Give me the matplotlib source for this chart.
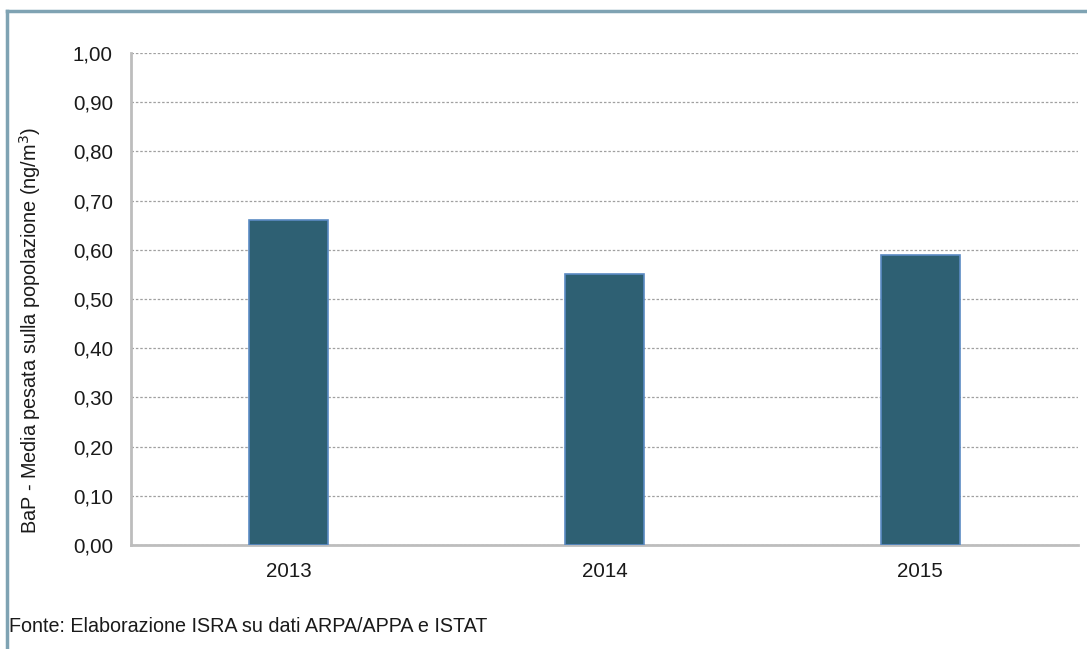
import matplotlib
matplotlib.use('Agg')
import matplotlib.pyplot as plt
from matplotlib.lines import Line2D
from matplotlib.ticker import FuncFormatter

plt.rcParams['font.family'] = ['Liberation Sans', 'DejaVu Sans']

# Data
years = ['2013', '2014', '2015']
bap_values = [0.66, 0.55, 0.59]
y_ticks = [0.0, 0.1, 0.2, 0.3, 0.4, 0.5, 0.6, 0.7, 0.8, 0.9, 1.0]

fig = plt.figure(figsize=(10.87, 6.49), dpi=100)
ax = fig.add_axes([0.1205, 0.1602, 0.8712, 0.758])

x = range(len(years))
ax.bar(x, bap_values, width=0.25, color='#2E6073', edgecolor='#5B8BC4',
       linewidth=1.2, zorder=3)

ax.set_xlim(-0.5, len(years) - 0.5)
ax.set_ylim(0, 1.0)
ax.set_yticks(y_ticks)
ax.yaxis.set_major_formatter(FuncFormatter(lambda v, p: f'{v:.2f}'.replace('.', ',')))
ax.set_xticks(list(x))
ax.set_xticklabels(years)

ax.tick_params(axis='both', length=0, labelsize=14.8, colors='#1a1a1a')
ax.tick_params(axis='y', pad=13)
ax.tick_params(axis='x', pad=12)

ax.grid(axis='y', color='#a0a0a0', linestyle=(0, (2, 1.5)), linewidth=0.9, zorder=0)
for side in ['top', 'right']:
    ax.spines[side].set_visible(False)
for side in ['left', 'bottom']:
    ax.spines[side].set_color('#BDBDBD')
    ax.spines[side].set_linewidth(2)

ax.set_ylabel('BaP - Media pesata sulla popolazione (ng/m$^3$)', fontsize=14.3,
              color='#1a1a1a', va='center')
ax.yaxis.set_label_coords(-0.1067, 0.437)

fig.text(0.008, 0.034, 'Fonte: Elaborazione ISRA su dati ARPA/APPA e ISTAT',
         fontsize=14.2, color='#1a1a1a', va='center', ha='left',
         family=['Liberation Sans Narrow', 'Liberation Sans', 'DejaVu Sans'])

# outer frame (top and left edges only, as in the reference)
frame_color = '#7FA3B3'
fig.add_artist(Line2D([7 / 1087, 1.0], [1 - 11 / 649, 1 - 11 / 649],
                      transform=fig.transFigure, color=frame_color, linewidth=2.5))
fig.add_artist(Line2D([7 / 1087, 7 / 1087], [0.0, 1 - 11 / 649],
                      transform=fig.transFigure, color=frame_color, linewidth=2.5))

fig.savefig('out.png', dpi=100)
